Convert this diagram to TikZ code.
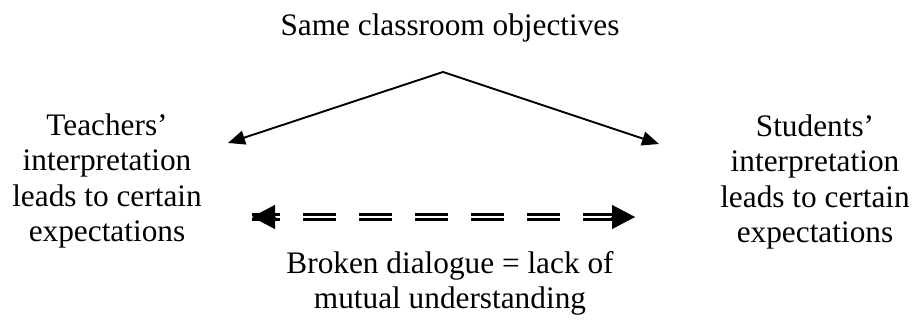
\documentclass[tikz,border=0pt]{standalone}
\usepackage{fontspec}
\setmainfont{Liberation Serif}
\usetikzlibrary{arrows.meta,calc}
\begin{document}
\begin{tikzpicture}[x=1pt,y=-1pt,
  label/.style={inner sep=0pt, align=center, anchor=base,
    font=\fontsize{31.3}{35.6}\selectfont},
  flow/.style={line width=1.9pt, -{Triangle[length=17pt,width=14pt]}},
  broken/.style={line width=2.8pt, double=white, double distance=2.4pt,
    dash pattern=on 33pt off 23pt, dash phase=5pt},
  bigtip/.style={line width=0.4pt, -{Triangle[length=23pt,width=24pt]}}]
  \useasboundingbox (0,0) rectangle (916,320);

  % text blocks (base anchor sits on the last line)
  \node[label] (goal) at (450,36) {Same classroom objectives};
  \node[label] (teach) at (107,242) {Teachers’\\interpretation\\leads to certain\\expectations};
  \node[label] (stud) at (815,243) {Students’\\interpretation\\leads to certain\\expectations};
  \node[label] (gap) at (450,309) {Broken dialogue = lack of\\mutual understanding};

  % shared objectives split towards both sides
  \coordinate (apex) at (443,72);
  \coordinate (tl) at (228,143);
  \coordinate (sl) at (659,144);
  \draw[flow] (apex) -- (tl);
  \draw[flow] (apex) -- (sl);

  % broken two-way dialogue
  \coordinate (dl) at (252,217);
  \coordinate (dr) at (635,217);
  \draw[broken] (dl) -- (dr);
  \draw[bigtip] ($(dl)+(24,0)$) -- (dl);
  \draw[bigtip] ($(dr)+(-24,0)$) -- (dr);
\end{tikzpicture}
\end{document}
